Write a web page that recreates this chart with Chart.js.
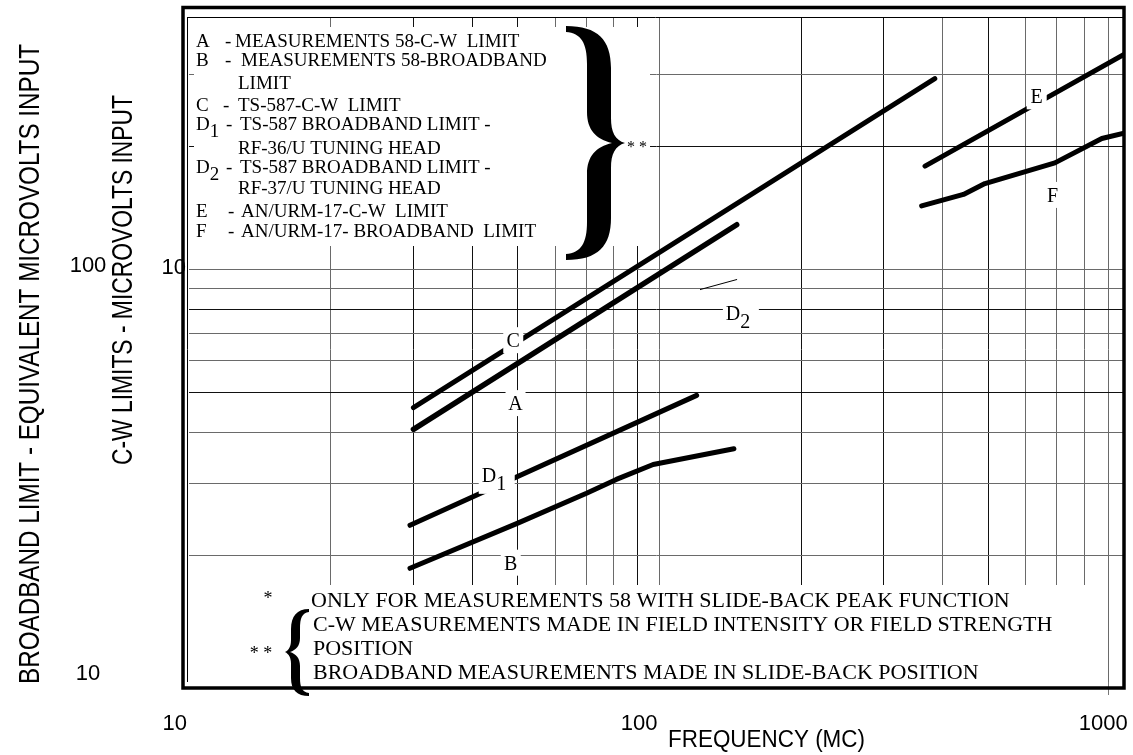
<!DOCTYPE html>
<html><head><meta charset="utf-8">
<script src="https://cdn.jsdelivr.net/npm/chart.js@4/dist/chart.umd.min.js"></script>
<style>html,body{margin:0;padding:0;background:#fff;}canvas{display:block;}</style>
</head><body>
<canvas id="c" width="1133" height="755"></canvas>
<script>
// ---- grid / tick values ----
const xGridValues = [20,30,40,50,60,70,80,90,100,200,300,400,500,600,700,800,900];
const yGridValues = [2,3,4,5,6,7,8,9,10,20,30];
const xTickValues = [10,100,1000];
const xTickLabels = ['10','100','1000'];
const yOuterTickValues = [10,1];
const yOuterTickLabels = ['100','10'];
const yInnerTickValues = [10];
const yInnerTickLabels = ['10'];

// ---- series (frequency MC, microvolts on C-W scale) ----
const freqA = [30,146];            const valA = [4.07,12.9];
const freqB = [29.5,50,70,81,97,144]; const valB = [1.86,2.40,2.84,3.07,3.34,3.65];
const freqC = [30,385];            const valC = [4.6,29.4];
const freqD1 = [29.5,120];         const valD1 = [2.37,4.93];
const freqD2 = [122,146];          const valD2 = [8.95,9.47];
const freqE = [367,972];           const valE = [17.95,33.7];
const freqF = [361,443,492,693,872,972]; const valF = [14.35,15.3,16.27,18.28,20.97,21.6];

// ---- curve labels ----
const curveLabelText = ['C','A','B','D','D','E','F'];
const curveLabelSub  = ['','','','1','2','',''];
const curveLabelX = [48.9,49.45,48.3,45.1,149,634,685];
const curveLabelY = [6.73,4.72,1.92,3.08,7.66,26.6,15.26];

// ---- legend text ----
const legendKeys  = ['A','B','','C','D','','D','','E','F'];
const legendSubs  = ['','','','','1','','2','','',''];
const legendTexts = ['MEASUREMENTS 58-C-W  LIMIT','MEASUREMENTS 58-BROADBAND','LIMIT','TS-587-C-W  LIMIT',
  'TS-587 BROADBAND LIMIT -','RF-36/U TUNING HEAD','TS-587 BROADBAND LIMIT -','RF-37/U TUNING HEAD',
  'AN/URM-17-C-W  LIMIT','AN/URM-17- BROADBAND  LIMIT'];
const noteLines = ['ONLY FOR MEASUREMENTS 58 WITH SLIDE-BACK PEAK FUNCTION',
  'C-W MEASUREMENTS MADE IN FIELD INTENSITY OR FIELD STRENGTH','POSITION',
  'BROADBAND MEASUREMENTS MADE IN SLIDE-BACK POSITION'];
const xTitle = 'FREQUENCY (MC)';
const yOuterTitle = 'BROADBAND LIMIT - EQUIVALENT MICROVOLTS INPUT';
const yInnerTitle = 'C-W LIMITS - MICROVOLTS INPUT';

function pts(xs, ys){ return xs.map((x,i)=>({x:x, y:ys[i]})); }
function ds(xs, ys, w){ return {data:pts(xs,ys), borderColor:'#000', borderWidth:w, pointRadius:0,
  tension:0, borderCapStyle:'round', borderJoinStyle:'round', fill:false}; }

const darkX = [30,40,50,90,200,300,500];
const darkY = [5,8,20];

const SERIF = '"Liberation Serif", "Times New Roman", serif';
const SANS = '"Liberation Sans", Arial, sans-serif';

const decor = {
  id:'decor',
  beforeDatasetsDraw(chart){
    const ctx = chart.ctx; const a = chart.chartArea;
    ctx.save(); ctx.fillStyle = '#fff';
    ctx.fillRect(194, 27, 456, 219);          // legend panel
    ctx.fillRect(a.left, 585, 1100 - a.left, a.bottom - 585); // notes panel
    ctx.restore();
  },
  afterDatasetsDraw(chart){
    const ctx = chart.ctx; const xs = chart.scales.x, ys = chart.scales.y;
    ctx.save();
    ctx.font = '20px ' + SERIF; ctx.fillStyle = '#000';
    curveLabelText.forEach((t,i)=>{
      const px = xs.getPixelForValue(curveLabelX[i]);
      const py = ys.getPixelForValue(curveLabelY[i]);
      const sub = curveLabelSub[i];
      const bw = sub ? 36 : 20, bh = sub ? 30 : 26;
      ctx.fillStyle = '#fff'; ctx.fillRect(px - bw/2, py - bh/2, bw, bh);
      ctx.fillStyle = '#000';
      if (sub){
        ctx.textAlign = 'left';
        ctx.fillText(t, px - 15, py + 3);
        const w = ctx.measureText(t).width;
        ctx.fillText(sub, px - 15 + w, py + 11);
      } else {
        ctx.textAlign = 'center';
        ctx.fillText(t, px, py + 7);
      }
    });
    ctx.restore();
  },
  afterDraw(chart){
    const ctx = chart.ctx; const a = chart.chartArea;
    const xs = chart.scales.x, ys = chart.scales.y;
    ctx.save();
    // 900 line stub below frame
    ctx.strokeStyle = '#777'; ctx.lineWidth = 1;
    const p9 = Math.round(xs.getPixelForValue(900)) + 0.5;
    ctx.beginPath(); ctx.moveTo(p9, a.bottom); ctx.lineTo(p9, 695); ctx.stroke();
    // frame
    ctx.strokeStyle = '#000'; ctx.lineWidth = 3.5;
    ctx.strokeRect(183, 7.5, 1124 - 183, 688 - 7.5);
    ctx.lineWidth = 1;
    ctx.beginPath(); ctx.moveTo(187.5, 17); ctx.lineTo(187.5, a.bottom);
    ctx.moveTo(187, 17.5); ctx.lineTo(1124, 17.5); ctx.stroke();

    ctx.fillStyle = '#000';
    // tick labels
    ctx.font = '22px ' + SANS; ctx.textBaseline = 'alphabetic';
    ctx.textAlign = 'right';
    xTickValues.forEach((v,i)=>{ ctx.fillText(xTickLabels[i], xs.getPixelForValue(v) - 2, 730); });
    ctx.textAlign = 'center';
    yOuterTickValues.forEach((v,i)=>{ ctx.fillText(yOuterTickLabels[i], 88, ys.getPixelForValue(v) + 2); });
    ctx.textAlign = 'right';
    yInnerTickValues.forEach((v,i)=>{ ctx.fillText(yInnerTickLabels[i], 186, ys.getPixelForValue(v) + 4); });

    // axis titles
    ctx.font = '23px ' + SANS; ctx.textAlign = 'left';
    let w = ctx.measureText(xTitle).width;
    ctx.save(); ctx.translate(668, 746.5); ctx.scale(197 / w, 1); ctx.fillText(xTitle, 0, 0); ctx.restore();
    ctx.font = '29px ' + SANS; ctx.textAlign = 'center';
    w = ctx.measureText(yOuterTitle).width;
    ctx.save(); ctx.translate(39, 364); ctx.rotate(-Math.PI/2); ctx.scale(640 / w, 1); ctx.fillText(yOuterTitle, 0, 0); ctx.restore();
    w = ctx.measureText(yInnerTitle).width;
    ctx.save(); ctx.translate(132, 280); ctx.rotate(-Math.PI/2); ctx.scale(370 / w, 1); ctx.fillText(yInnerTitle, 0, 0); ctx.restore();

    // legend text
    const base = [46.7,65.7,89.3,110.7,130,154,173.3,194.3,217.3,237.3];
    const dashX = [225,225,0,223,226,0,226,0,228,228];
    const textX = [235,241,238,238,240,238,240,238,241,241];
    ctx.font = '19px ' + SERIF; ctx.textAlign = 'left';
    legendTexts.forEach((t,i)=>{
      if (legendKeys[i]){
        ctx.fillText(legendKeys[i], 196, base[i]);
        if (legendSubs[i]){ const kw = ctx.measureText(legendKeys[i]).width; ctx.fillText(legendSubs[i], 196 + kw, base[i] + 7); }
        ctx.fillText('-', dashX[i], base[i]);
      }
      ctx.fillText(t, textX[i], base[i]);
    });
    // big right brace
    ctx.beginPath();
    ctx.moveTo(566,26);
    ctx.bezierCurveTo(598,26, 611,40, 611,68);
    ctx.lineTo(611,118);
    ctx.bezierCurveTo(611,132, 615,140, 625,143);
    ctx.bezierCurveTo(615,146, 611,154, 611,168);
    ctx.lineTo(611,218);
    ctx.bezierCurveTo(611,246, 598,260, 566,260);
    ctx.lineTo(566,254);
    ctx.bezierCurveTo(581,253, 587,243, 587,222);
    ctx.lineTo(587,174);
    ctx.bezierCurveTo(587,156, 596,147, 612,143);
    ctx.bezierCurveTo(596,139, 587,130, 587,112);
    ctx.lineTo(587,64);
    ctx.bezierCurveTo(587,43, 581,33, 566,32);
    ctx.closePath(); ctx.fill();
    ctx.font = '16px ' + SERIF; ctx.textAlign = 'left';
    ctx.fillText('* *', 627, 152);

    // notes
    ctx.font = '22px ' + SERIF; ctx.textAlign = 'left';
    const nb = [606.7, 630.7, 655, 679];
    const nx = [311, 313, 313, 313];
    noteLines.forEach((t,i)=>ctx.fillText(t, nx[i], nb[i]));
    ctx.font = '18px ' + SERIF; ctx.textAlign = 'center';
    ctx.fillText('*', 268, 604);
    ctx.fillText('* *', 261, 659);
    // small left brace
    ctx.beginPath();
    ctx.moveTo(309,609);
    ctx.bezierCurveTo(297,609, 291,616, 291,629);
    ctx.lineTo(291,640);
    ctx.bezierCurveTo(291,646, 289,650, 285,652);
    ctx.bezierCurveTo(289,654, 291,658, 291,664);
    ctx.lineTo(291,678);
    ctx.bezierCurveTo(291,690, 297,696, 309,696);
    ctx.lineTo(309,693);
    ctx.bezierCurveTo(302,692, 300,687, 300,678);
    ctx.lineTo(300,666);
    ctx.bezierCurveTo(300,658, 296,654, 290,652);
    ctx.bezierCurveTo(296,650, 300,646, 300,638);
    ctx.lineTo(300,629);
    ctx.bezierCurveTo(300,618, 302,613, 309,612);
    ctx.closePath(); ctx.fill();
    ctx.restore();
  }
};

new Chart(document.getElementById('c'), {
  type: 'line',
  data: { datasets: [
    ds(freqA, valA, 5.5), ds(freqB, valB, 5), ds(freqC, valC, 5),
    ds(freqD1, valD1, 5), ds(freqD2, valD2, 1), ds(freqE, valE, 5), ds(freqF, valF, 5)
  ]},
  options: {
    responsive: false, animation: false, devicePixelRatio: 1,
    layout: { padding: { left: 189, top: 17, right: 9, bottom: 73 } },
    plugins: { legend: { display: false }, tooltip: { enabled: false } },
    scales: {
      x: { type: 'logarithmic', min: 10, max: 972,
        grid: { color: c => darkX.includes(c.tick && c.tick.value) ? '#111' : '#6a6a6a', lineWidth: 1, drawTicks: false },
        border: { display: false }, ticks: { display: false },
        afterBuildTicks: s => { s.ticks = xGridValues.map(v => ({ value: v })); },
        afterFit: s => { s.height = 0; } },
      y: { type: 'logarithmic', min: 0.98, max: 41.6,
        grid: { color: c => darkY.includes(c.tick && c.tick.value) ? '#111' : '#6a6a6a', lineWidth: 1, drawTicks: false },
        border: { display: false }, ticks: { display: false },
        afterBuildTicks: s => { s.ticks = yGridValues.map(v => ({ value: v })); },
        afterFit: s => { s.width = 0; } }
    }
  },
  plugins: [decor]
});
</script>
</body></html>
